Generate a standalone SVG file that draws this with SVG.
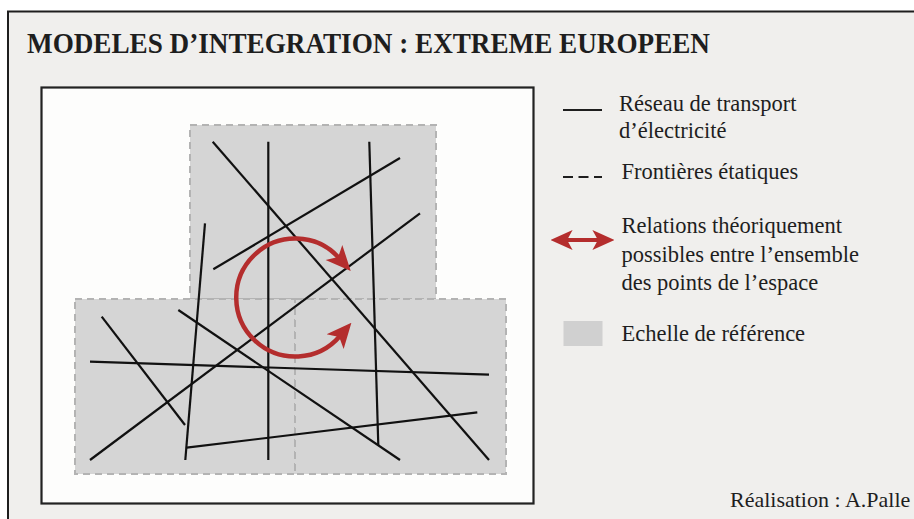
<svg xmlns="http://www.w3.org/2000/svg" width="914" height="519" viewBox="0 0 914 519">
<style>
.txt{font-family:"Liberation Serif","Times New Roman",serif;fill:#1e1e1e;}
.leg{font-size:22.5px;}
.net{stroke:#111;stroke-width:2.2;fill:none;stroke-linecap:butt;}
.zone{fill:#d5d5d5;stroke:#b3b3b3;stroke-width:2;stroke-dasharray:7,5;}
.red{stroke:#b42d2d;fill:none;}
</style>
<defs>
<marker id="ah" markerUnits="userSpaceOnUse" markerWidth="22" markerHeight="22" viewBox="0 0 20 20" refX="6" refY="10" orient="auto-start-reverse">
<path d="M0,1 L20,10 L0,19 L5,10 Z" fill="#b42d2d"/>
</marker>
<marker id="ahc" markerUnits="userSpaceOnUse" markerWidth="25" markerHeight="25" viewBox="0 0 20 20" refX="6" refY="10" orient="auto-start-reverse">
<path d="M0,1 L20,10 L0,19 L5,10 Z" fill="#b42d2d"/>
</marker>
</defs>
<rect x="0" y="0" width="914" height="519" fill="#ffffff"/>
<rect x="8" y="11.5" width="920" height="520" fill="#f0efed" stroke="#1e1e1e" stroke-width="2"/>
<text class="txt" x="27" y="53" font-size="29" font-weight="bold" textLength="683" lengthAdjust="spacingAndGlyphs">MODELES D’INTEGRATION : EXTREME EUROPEEN</text>

<g id="frame">
<rect x="41.5" y="87.5" width="492" height="416" fill="#fdfdfc" stroke="#222" stroke-width="2.2"/>
</g>

<g id="zones">
<rect id="zone-top" class="zone" x="190" y="125" width="246" height="174"/>
<rect id="zone-bl" class="zone" x="75" y="299" width="220" height="175"/>
<rect id="zone-br" class="zone" x="295" y="299" width="211" height="175"/>
</g>

<g id="network">
<line class="net" x1="212.7" y1="141.7" x2="489" y2="460"/>
<line class="net" x1="268.3" y1="141.7" x2="268.3" y2="460"/>
<line class="net" x1="369.3" y1="141.7" x2="378.3" y2="445"/>
<line class="net" x1="400" y1="158" x2="213.3" y2="269.3"/>
<line class="net" x1="420" y1="213.3" x2="90" y2="460"/>
<line class="net" x1="205" y1="223.3" x2="185.3" y2="460"/>
<line class="net" x1="178.3" y1="310" x2="400" y2="460"/>
<line class="net" x1="101.7" y1="316.7" x2="185" y2="425"/>
<polyline class="net" points="90,361.7 300,368.5 489,374.7"/>
<line class="net" x1="186.7" y1="447.7" x2="477.3" y2="412.3"/>
</g>

<g id="relations">
<path class="red" stroke-width="4.5" d="M 339,258 A 59 59 0 1 0 340,336" marker-start="url(#ahc)" marker-end="url(#ahc)"/>
</g>

<g id="legend">
<g id="leg-network">
<line x1="563" y1="110" x2="602" y2="110" stroke="#1e1e1e" stroke-width="2.2"/>
<text class="txt leg" x="619" y="110.5">Réseau de transport</text>
<text class="txt leg" x="619" y="138">d’électricité</text>
</g>
<g id="leg-borders">
<line x1="563" y1="177" x2="602" y2="177" stroke="#1e1e1e" stroke-width="2.2" stroke-dasharray="10,5.5"/>
<text class="txt leg" x="621.5" y="179">Frontières étatiques</text>
</g>
<g id="leg-relations">
<line x1="566" y1="240" x2="599" y2="240" stroke="#b42d2d" stroke-width="4" marker-start="url(#ah)" marker-end="url(#ah)"/>
<text class="txt leg" x="621.5" y="233">Relations théoriquement</text>
<text class="txt leg" x="621.5" y="261.5">possibles entre l’ensemble</text>
<text class="txt leg" x="621.5" y="289.5">des points de l’espace</text>
</g>
<g id="leg-scale">
<rect x="563.5" y="321" width="39" height="25" fill="#d0d0d0"/>
<text class="txt leg" x="621.5" y="341">Echelle de référence</text>
</g>
</g>

<text class="txt" x="730" y="507" font-size="22">Réalisation : A.Palle</text>
</svg>
